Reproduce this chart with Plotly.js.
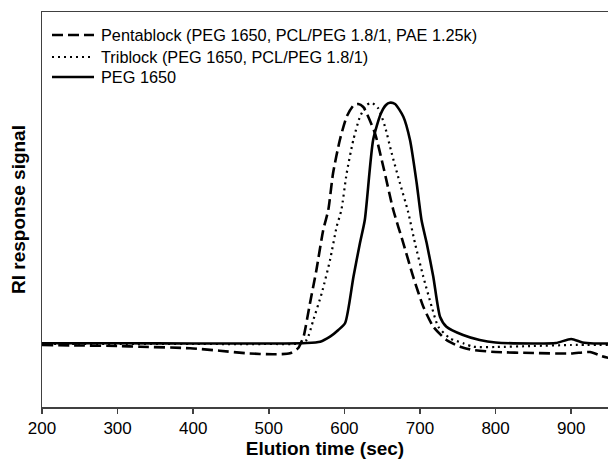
<!DOCTYPE html>
<html>
<head>
<meta charset="utf-8">
<script src="https://cdn.plot.ly/plotly-3.0.1.min.js"></script>
<style>html,body{margin:0;padding:0;background:#fff;}#chart{width:608px;height:468px;}</style>
</head>
<body>
<div id="chart"></div>
<script>
// Pentablock (PEG 1650, PCL/PEG 1.8/1, PAE 1.25k)
const pentaX = [200,250,300,330,396,435,471,506,528,539,543,546,554.5,563,572,578.7,585,594,603,612,618.4,625,629.5,640.5,651.5,664.7,678,691,704.4,717.6,735,753,770.5,800,850,900,925,940,950];
const pentaY = [62,61.5,61,60.3,58.7,56.3,53.7,52.7,53.7,59,65,70.3,103.7,137,177,197,233.7,267,290.3,301.5,303,300,293.7,273.7,240.3,197,163.7,130.3,100.3,80.3,67,60.3,57,55,54,53.5,55,51,49];
// Triblock (PEG 1650, PCL/PEG 1.8/1)
const triX = [200,300,400,500,540,550,558.9,570,581,589.8,596,603,611.8,620.6,629.5,636,644.8,653.7,662.6,673.5,684,693.4,704.4,715.5,724.2,739.7,757.3,770.5,800,850,900,950];
const triY = [63,63,63,63,63.5,67,87,113.7,147,180.3,197,233.7,267,290.3,302,304.3,298.7,280.3,253.7,223.7,196,163.7,130.3,100.3,80.3,68.7,63.7,60.3,60,61,62,62];
// PEG 1650
const pegX = [200,300,400,500,550,568,581,592,601,612,620.6,627,638,648,655,660,667,678,686.8,695.6,702,708.9,717.6,726.5,735,757,779,800,850,880,900,915,930,950];
const pegY = [63.7,63.7,63.5,63.5,64,65.3,70.3,77,84,130.3,164,187,267,293,302,304.3,303,290.3,267,224,187,163.7,130.3,90.3,80.3,72,67,64.5,63.5,64,68,64.5,63.5,63.5];

const names = ['Pentablock (PEG 1650, PCL/PEG 1.8/1, PAE 1.25k)','Triblock (PEG 1650, PCL/PEG 1.8/1)','PEG 1650'];
const xTicks = [200,300,400,500,600,700,800,900];

const styles = [
  {color: '#000', width: 2.6, dash: '11px,5px'},
  {color: '#000', width: 2.2, dash: '2px,4px'},
  {color: '#000', width: 2.6, dash: 'solid'}
];
const xs = [pentaX, triX, pegX];
const ys = [pentaY, triY, pegY];

const traces = names.map((n, i) => ({
  x: xs[i], y: ys[i], name: n, mode: 'lines', showlegend: false,
  line: Object.assign({shape: 'spline', smoothing: 0.6}, styles[i])
}));

// custom legend (paper coordinates of the plot area: 566 x 395 px)
const W = 566, H = 395;
const rowsPx = [35, 57, 77];
const shapes = [], annotations = [];
rowsPx.forEach((py, i) => {
  const yp = (407 - py) / H;
  shapes.push({type: 'line', xref: 'paper', yref: 'paper', x0: (52 - 42) / W, x1: (94 - 42) / W, y0: yp, y1: yp, line: styles[i]});
  annotations.push({xref: 'paper', yref: 'paper', x: (99 - 42) / W, y: yp, xanchor: 'left', yanchor: 'middle', showarrow: false, text: names[i], font: {size: 16.3}});
});

const layout = {
  width: 608, height: 468,
  margin: {l: 42, r: 0, t: 12, b: 61},
  paper_bgcolor: '#fff', plot_bgcolor: '#fff',
  font: {family: 'Liberation Sans, Arial, sans-serif', color: '#000', size: 15},
  showlegend: false,
  shapes: shapes, annotations: annotations,
  xaxis: {
    range: [200, 948.7], tickvals: xTicks, ticktext: xTicks.map(String),
    ticks: 'outside', ticklen: 5, tickwidth: 1.5, tickcolor: '#404040',
    showline: true, linecolor: '#404040', linewidth: 1.5, mirror: true,
    showgrid: false, zeroline: false,
    tickfont: {size: 17},
    title: {text: '<b>Elution time (sec)</b>', font: {size: 19}, standoff: 5}
  },
  yaxis: {
    range: [0, 395], showticklabels: false, ticks: '',
    showline: true, linecolor: '#404040', linewidth: 1.5,
    showgrid: false, zeroline: false,
    title: {text: '<b>RI response signal</b>', font: {size: 19}, standoff: 10}
  }
};

Plotly.newPlot('chart', traces, layout, {staticPlot: true, displayModeBar: false});
</script>
</body>
</html>
